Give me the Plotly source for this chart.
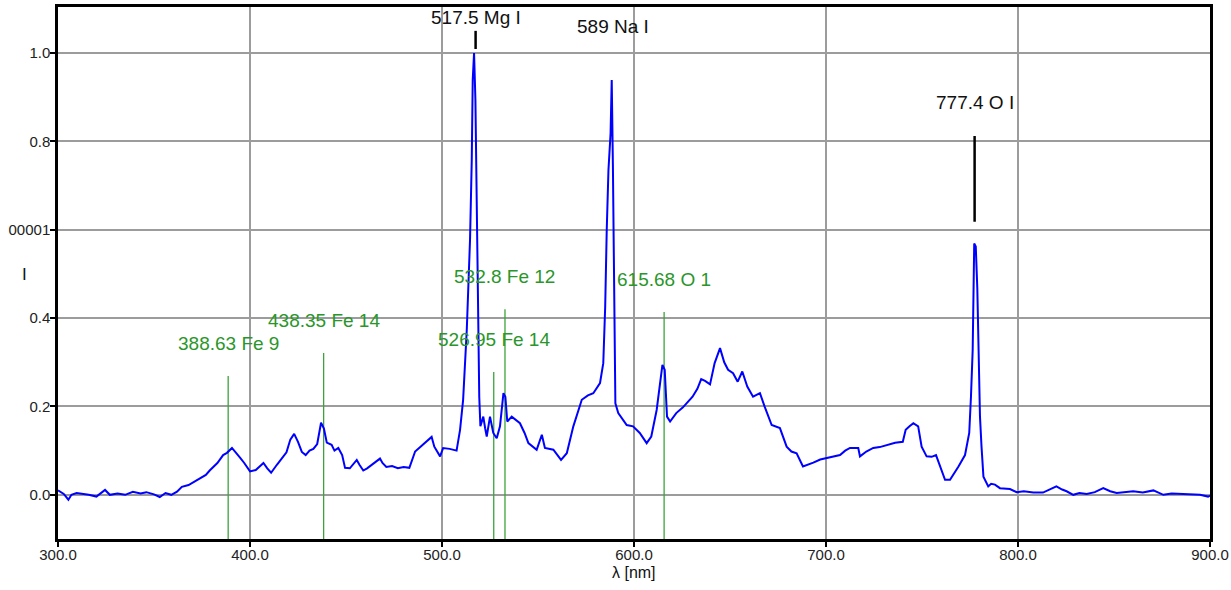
import plotly.graph_objects as go

# ---------------- data ----------------
wavelength = [
    300, 303, 305.4, 307, 309.7, 313, 316, 320, 322, 324.5, 327, 331, 335, 339, 343, 346, 350, 353, 356, 359,
    362, 364.5, 368, 371, 374, 377, 379, 381, 383, 386, 388, 390.6, 392.5, 394.8, 397, 400, 403, 407, 409, 411,
    414, 416.6, 419, 421, 423, 425, 427, 429, 431, 433, 435, 437, 438.5, 440, 442.5, 444, 446, 448, 449.5, 452,
    455.6, 457, 459, 461, 464, 467.7, 469, 471, 474, 477, 480, 483, 486, 489, 491, 494.6, 496, 499, 500.6, 504,
    507.6, 509.4, 511, 512.9, 514.6, 515.5, 516, 516.7, 517.4, 518, 518.6, 519.4, 520, 521.5, 522.5, 523.3, 525,
    526.2, 526.7, 528.5, 530.2, 532, 533, 534, 536.3, 540.6, 543, 545, 549.3, 552, 553.6, 558, 562, 565, 568.4,
    572.8, 576, 578.8, 582.3, 584, 585, 585.8, 586.7, 587.8, 588.4, 589, 589.6, 590.3, 591.8, 594, 596.2, 599.5,
    603, 606.6, 609, 611.8, 613.5, 614.8, 616, 616.7, 617.2, 618.8, 622, 625.5, 628, 630.5, 633, 635, 637, 639.6,
    642, 644.8, 647, 649, 651.6, 654, 656.4, 659, 662, 665.6, 668, 671.7, 676, 679.5, 682, 684.7, 688, 690, 693.4,
    697, 700.3, 704, 707.3, 710, 712.5, 716.8, 717.7, 721, 724.6, 728, 731.6, 736, 740, 741.5, 743.5, 745.5, 748,
    749.8, 752.4, 755, 757.3, 759.4, 762, 764.6, 767, 769, 772.4, 774.6, 775.5, 776.4, 777.2, 778, 778.8, 779.5,
    780.2, 781, 782, 784.5, 786, 788, 790.6, 795.8, 799.3, 803, 808, 813, 817, 820, 823, 825.3, 828.8, 832, 835.8,
    840, 844.4, 848, 851.4, 856, 860, 865, 870.5, 875.7, 880, 886, 890, 894.8, 899, 900,
]
intensity = [
    0.010, 0.002, -0.011, 0.000, 0.004, 0.002, 0.000, -0.004, 0.003, 0.011, 0.000, 0.003, 0.000, 0.007, 0.003,
    0.006, 0.001, -0.005, 0.004, 0.000, 0.007, 0.018, 0.022, 0.030, 0.037, 0.045, 0.055, 0.064, 0.072, 0.090,
    0.095, 0.106, 0.097, 0.084, 0.072, 0.053, 0.056, 0.072, 0.060, 0.050, 0.068, 0.084, 0.096, 0.125, 0.138,
    0.120, 0.097, 0.090, 0.100, 0.104, 0.115, 0.163, 0.150, 0.118, 0.113, 0.100, 0.106, 0.090, 0.061, 0.060,
    0.079, 0.068, 0.055, 0.060, 0.070, 0.082, 0.072, 0.063, 0.065, 0.060, 0.063, 0.061, 0.098, 0.110, 0.118,
    0.131, 0.109, 0.087, 0.106, 0.104, 0.100, 0.147, 0.215, 0.373, 0.577, 0.758, 0.939, 1.000, 0.894, 0.652,
    0.396, 0.222, 0.155, 0.177, 0.150, 0.132, 0.177, 0.150, 0.140, 0.128, 0.155, 0.230, 0.222, 0.166, 0.177,
    0.162, 0.140, 0.117, 0.102, 0.136, 0.106, 0.102, 0.079, 0.094, 0.155, 0.215, 0.225, 0.230, 0.253, 0.298,
    0.426, 0.600, 0.735, 0.818, 0.939, 0.750, 0.449, 0.207, 0.185, 0.170, 0.158, 0.155, 0.140, 0.117, 0.132,
    0.192, 0.250, 0.294, 0.283, 0.200, 0.177, 0.166, 0.185, 0.198, 0.210, 0.222, 0.240, 0.262, 0.258, 0.250,
    0.298, 0.332, 0.300, 0.283, 0.275, 0.256, 0.279, 0.245, 0.222, 0.230, 0.200, 0.158, 0.151, 0.109, 0.098,
    0.094, 0.064, 0.068, 0.073, 0.080, 0.083, 0.088, 0.090, 0.100, 0.106, 0.106, 0.087, 0.098, 0.106, 0.108,
    0.113, 0.118, 0.120, 0.147, 0.155, 0.162, 0.155, 0.109, 0.087, 0.086, 0.090, 0.064, 0.034, 0.034, 0.050,
    0.064, 0.090, 0.140, 0.222, 0.328, 0.569, 0.562, 0.468, 0.305, 0.177, 0.109, 0.041, 0.019, 0.025, 0.023,
    0.015, 0.013, 0.006, 0.008, 0.005, 0.005, 0.012, 0.019, 0.012, 0.008, 0.000, 0.004, 0.002, 0.006, 0.015,
    0.008, 0.004, 0.006, 0.008, 0.005, 0.010, 0.000, 0.003, 0.002, 0.001, 0.000, -0.004, -0.002,
]

# reference lines (green): wavelength, label, top of marker line
fe_lines = [388.63, 438.35, 526.95, 532.8, 615.68]
fe_labels = ["388.63 Fe 9", "438.35 Fe 14", "526.95 Fe 14", "532.8 Fe 12", "615.68 O 1"]
fe_tops = [0.269, 0.321, 0.278, 0.420, 0.414]
fe_label_y = [0.343, 0.394, 0.351, 0.494, 0.488]

# identified peaks (black)
peak_lines = [517.5, 589.0, 777.4]
peak_labels = ["517.5 Mg I", "589 Na I", "777.4 O I"]
peak_label_y = [1.081, 1.059, 0.887]
mark_lines = [517.5, 777.4]
mark_bottom = [1.009, 0.618]
mark_top = [1.050, 0.812]

x_ticks = [300, 400, 500, 600, 700, 800, 900]
x_ticktext = ["300.0", "400.0", "500.0", "600.0", "700.0", "800.0", "900.0"]
y_ticks = [0.0, 0.2, 0.4, 0.6, 0.8, 1.0]
y_ticktext = ["0.0", "0.2", "0.4", "00001", "0.8", "1.0"]
y_min, y_max = -0.1, 1.104

FONT = "Arial, Liberation Sans, sans-serif"
GREEN_LINE = "#3ca33c"
GREEN_TEXT = "#2a962a"

fig = go.Figure()

for xv, top in zip(fe_lines, fe_tops):
    fig.add_trace(go.Scatter(x=[xv, xv], y=[y_min, top], mode="lines",
                             line=dict(color=GREEN_LINE, width=1.3),
                             hoverinfo="skip", showlegend=False))

for xv, b, t in zip(mark_lines, mark_bottom, mark_top):
    fig.add_trace(go.Scatter(x=[xv, xv], y=[b, t], mode="lines",
                             line=dict(color="black", width=2.5),
                             hoverinfo="skip", showlegend=False, cliponaxis=False))

fig.add_trace(go.Scatter(x=wavelength, y=intensity, mode="lines",
                         line=dict(color="#0000ff", width=2),
                         showlegend=False))

for xv, lab, yv in zip(fe_lines, fe_labels, fe_label_y):
    fig.add_annotation(x=xv, y=yv, xref="x", yref="y", text=lab, showarrow=False,
                       font=dict(family=FONT, size=19, color=GREEN_TEXT),
                       xanchor="center", yanchor="middle")

for xv, lab, yv in zip(peak_lines, peak_labels, peak_label_y):
    fig.add_annotation(x=xv, y=yv, xref="x", yref="y", text=lab, showarrow=False,
                       font=dict(family=FONT, size=19, color="#111111"),
                       xanchor="center", yanchor="middle")

# axis titles
fig.add_annotation(x=600, y=-0.0625, xref="x", yref="paper", text="λ [nm]", showarrow=False,
                   font=dict(family=FONT, size=16, color="#111111"), xanchor="center", yanchor="middle")
fig.add_annotation(x=-0.0295, y=0.497, xref="paper", yref="paper", text="I", showarrow=False,
                   font=dict(family=FONT, size=17, color="#111111"), xanchor="center", yanchor="middle")

axis_common = dict(showline=True, mirror=True, linecolor="black", linewidth=2.5,
                   showgrid=True, gridcolor="#9c9c9c", gridwidth=1.5, zeroline=False,
                   ticks="outside", ticklen=5, tickcolor="black", tickwidth=1.5,
                   automargin=False,
                   tickfont=dict(family=FONT, size=15, color="#222222"))

fig.update_xaxes(range=[300, 900], tickmode="array", tickvals=x_ticks, ticktext=x_ticktext,
                 ticklabelstandoff=-5, **axis_common)
fig.update_yaxes(range=[y_min, y_max], tickmode="array", tickvals=y_ticks, ticktext=y_ticktext,
                 ticklabelstandoff=-3, **axis_common)

fig.update_layout(width=1231, height=590,
                  margin=dict(l=58, r=21, t=7, b=51, autoexpand=False),
                  paper_bgcolor="white", plot_bgcolor="white",
                  showlegend=False)

fig.write_html("out.html",
               config={"displayModeBar": False},
               post_script="document.body.style.margin='0';document.body.style.overflow='hidden';")
